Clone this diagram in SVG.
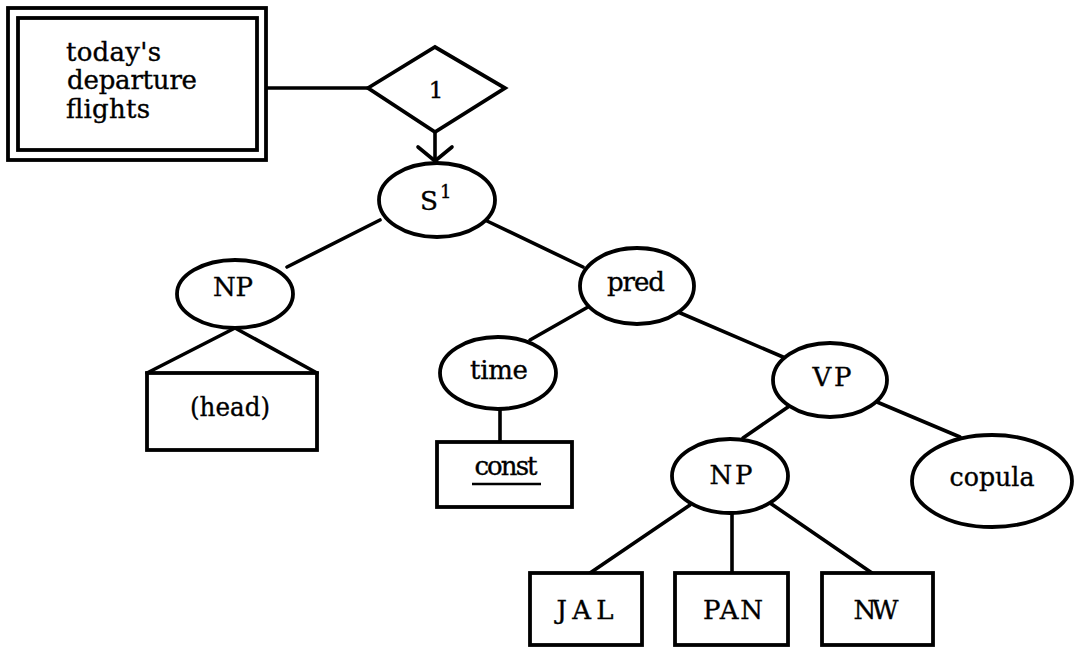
<svg xmlns="http://www.w3.org/2000/svg" width="1078" height="648" viewBox="0 0 1078 648">
<style>
.s{fill:none;stroke:#000;stroke-width:3.6;stroke-linejoin:round;stroke-linecap:round}
.n{fill:#fff;stroke:#000;stroke-width:3.8}
.t{font-family:"DejaVu Serif","Liberation Serif",serif;font-size:26px;fill:#000;stroke:#000;stroke-width:0.35}
.c{text-anchor:middle}
</style>
<rect width="1078" height="648" fill="#fff"/>
<g id="connectors">
<line class="s" x1="266" y1="88" x2="368" y2="88"/>
<line class="s" x1="435" y1="132" x2="435" y2="161"/>
<polyline class="s" points="418,147 435,161 452,147"/>
<line class="s" x1="380" y1="220" x2="287" y2="267"/>
<line class="s" x1="487" y1="221" x2="583" y2="267"/>
<line class="s" x1="588" y1="307" x2="530" y2="340"/>
<line class="s" x1="678" y1="312" x2="783" y2="357"/>
<line class="s" x1="788" y1="407" x2="743" y2="438"/>
<line class="s" x1="877" y1="402" x2="960" y2="437"/>
<polyline class="s" points="147,373 235,328 317,373"/>
<line class="s" x1="500" y1="409" x2="500" y2="442"/>
<line class="s" x1="690" y1="505" x2="590" y2="573"/>
<line class="s" x1="732" y1="513" x2="732" y2="573"/>
<line class="s" x1="770" y1="503" x2="872" y2="573"/>
</g>
<g id="flights">
<rect class="n" x="8" y="8" width="258" height="152"/>
<rect class="n" x="18" y="18" width="239" height="132"/>
<text class="t" x="66" y="61" textLength="95" lengthAdjust="spacing">today's</text>
<text class="t" x="67" y="89" textLength="130" lengthAdjust="spacing">departure</text>
<text class="t" x="66" y="118" textLength="84" lengthAdjust="spacing">flights</text>
</g>
<g id="rel1">
<polygon class="n" points="368,88 435,47 505,88 435,132" stroke-width="4.2" stroke-linejoin="miter"/>
<text class="t c" x="436" y="98" style="font-size:23px">1</text>
</g>
<g id="S1">
<ellipse class="n" cx="437" cy="200" rx="58" ry="37"/>
<text class="t" x="420" y="210" textLength="18" lengthAdjust="spacingAndGlyphs">S</text>
<text class="t" x="440" y="198" style="font-size:18px">1</text>
</g>
<g id="NP1">
<ellipse class="n" cx="235" cy="294" rx="58" ry="34"/>
<text class="t c" x="233" y="296" textLength="40" lengthAdjust="spacing">NP</text>
</g>
<g id="head">
<rect class="n" x="147" y="373" width="170" height="77"/>
<text class="t c" x="230" y="416" textLength="80" lengthAdjust="spacingAndGlyphs">(head)</text>
</g>
<g id="pred">
<ellipse class="n" cx="637" cy="286" rx="57" ry="38"/>
<text class="t c" x="636" y="291" textLength="58" lengthAdjust="spacing">pred</text>
</g>
<g id="time">
<ellipse class="n" cx="498" cy="373" rx="58" ry="36"/>
<text class="t c" x="499" y="379" textLength="58" lengthAdjust="spacing">time</text>
</g>
<g id="const">
<rect class="n" x="437" y="442" width="135" height="65"/>
<text class="t c" x="506" y="475" textLength="63" lengthAdjust="spacing">const</text>
<line x1="472" y1="484" x2="541" y2="484" stroke="#000" stroke-width="2.4"/>
</g>
<g id="VP">
<ellipse class="n" cx="830" cy="380" rx="57" ry="37"/>
<text class="t c" x="832" y="386" textLength="39" lengthAdjust="spacing">VP</text>
</g>
<g id="NP2">
<ellipse class="n" cx="730" cy="476" rx="58" ry="37"/>
<text class="t c" x="731" y="484" textLength="43" lengthAdjust="spacing">NP</text>
</g>
<g id="copula">
<ellipse class="n" cx="992" cy="481" rx="80" ry="46"/>
<text class="t c" x="992" y="486" textLength="85" lengthAdjust="spacingAndGlyphs">copula</text>
</g>
<g id="JAL">
<rect class="n" x="530" y="573" width="112" height="72"/>
<text class="t c" x="585" y="619" textLength="57" lengthAdjust="spacing">JAL</text>
</g>
<g id="PAN">
<rect class="n" x="675" y="573" width="113" height="72"/>
<text class="t c" x="733" y="619" textLength="60" lengthAdjust="spacing">PAN</text>
</g>
<g id="NW">
<rect class="n" x="822" y="573" width="111" height="72"/>
<text class="t c" x="876" y="619" textLength="45" lengthAdjust="spacing">NW</text>
</g>
</svg>
